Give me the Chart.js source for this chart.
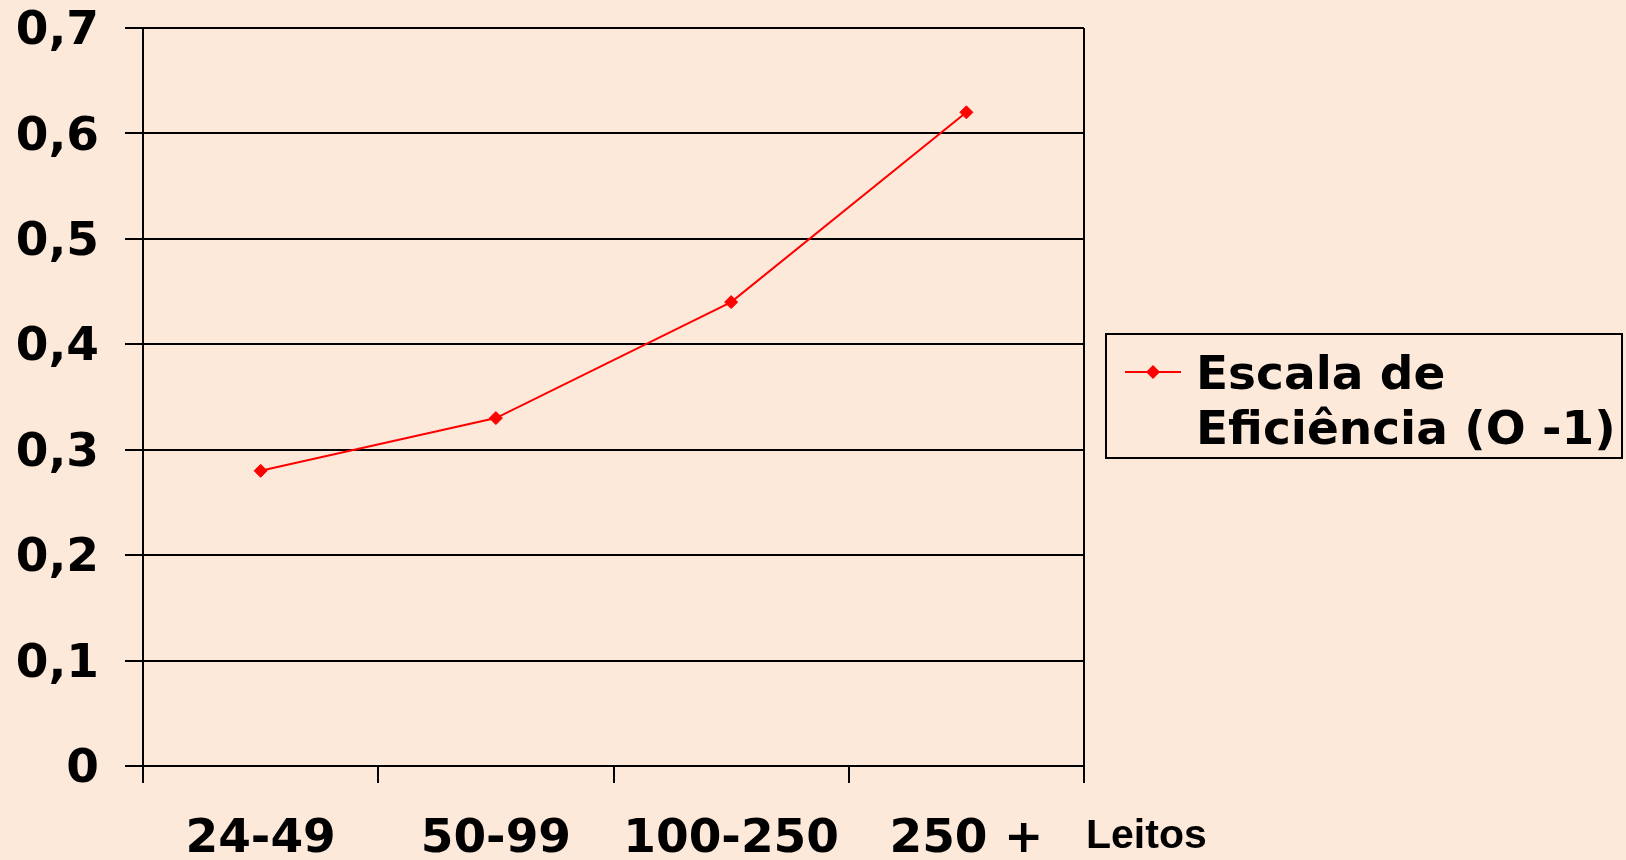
<!DOCTYPE html>
<html>
<head>
<meta charset="utf-8">
<script src="https://cdn.jsdelivr.net/npm/chart.js@4/dist/chart.umd.min.js"></script>
<style>
  html, body { margin: 0; padding: 0; background: #FCE9DA; }
  #wrap { width: 1626px; height: 860px; position: relative; }
  canvas { display: block; }
</style>
</head>
<body>
<div id="wrap"><canvas id="chart" width="1626" height="860"></canvas></div>
<script>
// Hospital size classes (number of beds) and the efficiency score for each
const categories = ['24-49', '50-99', '100-250', '250 +'];
const efficiency = [0.28, 0.33, 0.44, 0.62];
const seriesLabel = ['Escala de', 'Eficiência (O -1)'];
const axisTitle = 'Leitos';
const yMin = 0;
const yMax = 0.7;
const yStep = 0.1;

const BG = '#FCE9DA';
const INK = '#000000';
const RED = '#FF0000';
const FONT = 'DejaVu Sans';

function formatTick(v) {
  if (Math.abs(v) < 1e-9) return '0';
  return v.toFixed(1).replace('.', ',');
}

// Boxed legend with a wrapped two-line label, plus the x-axis unit at the axis end
const decorations = {
  id: 'decorations',
  afterDraw(chart) {
    const ctx = chart.ctx;
    const area = chart.chartArea;
    ctx.save();

    // unit label to the right of the category axis
    ctx.fillStyle = INK;
    ctx.font = 'bold 41px "Liberation Sans"';
    ctx.textAlign = 'left';
    ctx.textBaseline = 'alphabetic';
    ctx.fillText(axisTitle, area.right + 2, 848);

    // legend frame
    const bx = 1106, by = 334, bw = 516, bh = 124;
    ctx.strokeStyle = INK;
    ctx.lineWidth = 2;
    ctx.strokeRect(bx, by, bw, bh);

    // legend sample: line with a diamond marker
    const ly = 372;
    ctx.strokeStyle = RED;
    ctx.lineWidth = 2;
    ctx.beginPath();
    ctx.moveTo(1125, ly);
    ctx.lineTo(1181, ly);
    ctx.stroke();
    ctx.fillStyle = RED;
    ctx.beginPath();
    ctx.moveTo(1153, ly - 7);
    ctx.lineTo(1160, ly);
    ctx.lineTo(1153, ly + 7);
    ctx.lineTo(1146, ly);
    ctx.closePath();
    ctx.fill();

    // legend text
    ctx.fillStyle = INK;
    ctx.font = 'bold 47px "' + FONT + '"';
    ctx.textAlign = 'left';
    ctx.textBaseline = 'alphabetic';
    ctx.fillText(seriesLabel[0], 1196, 389);
    ctx.fillText(seriesLabel[1], 1196, 444);

    ctx.restore();
  }
};

const canvasBg = {
  id: 'canvasBg',
  beforeDraw(chart) {
    const ctx = chart.ctx;
    ctx.save();
    ctx.fillStyle = BG;
    ctx.fillRect(0, 0, chart.width, chart.height);
    ctx.restore();
  }
};

new Chart(document.getElementById('chart'), {
  type: 'line',
  data: {
    labels: categories,
    datasets: [{
      label: seriesLabel.join(' '),
      data: efficiency,
      borderColor: RED,
      backgroundColor: RED,
      borderWidth: 2,
      pointStyle: 'rectRot',
      pointRadius: 6.5,
      pointHoverRadius: 6.5,
      pointBorderColor: RED,
      pointBorderWidth: 1,
      tension: 0,
      fill: false
    }]
  },
  options: {
    responsive: false,
    animation: false,
    events: [],
    layout: { padding: { left: 0, right: 542, top: 28, bottom: 0 } },
    plugins: {
      legend: { display: false },
      tooltip: { enabled: false },
      title: { display: false }
    },
    scales: {
      x: {
        type: 'category',
        offset: true,
        afterFit(scale) {
          scale.height = 94;
          scale.paddingLeft = 0;
          scale.paddingRight = 0;
        },
        grid: {
          offset: true,
          drawOnChartArea: true,
          color: (c) => (c.type === 'tick' ? 'rgba(0,0,0,0)' : INK),
          tickColor: INK,
          lineWidth: 2,
          tickLength: 17
        },
        border: { display: true, color: INK, width: 2 },
        ticks: {
          color: INK,
          padding: 29,
          maxRotation: 0,
          autoSkip: false,
          font: { family: FONT, size: 47, weight: 'bold' }
        }
      },
      y: {
        min: yMin,
        max: yMax,
        afterFit(scale) {
          scale.width = 143;
          scale.paddingTop = 0;
          scale.paddingBottom = 0;
        },
        grid: {
          color: INK,
          lineWidth: 2,
          tickLength: 18,
          drawTicks: true
        },
        border: { display: true, color: INK, width: 2 },
        ticks: {
          stepSize: yStep,
          color: INK,
          padding: 26,
          labelOffset: 4,
          callback: (v) => formatTick(v),
          font: { family: FONT, size: 47, weight: 'bold' }
        }
      }
    }
  },
  plugins: [canvasBg, decorations]
});
</script>
</body>
</html>
